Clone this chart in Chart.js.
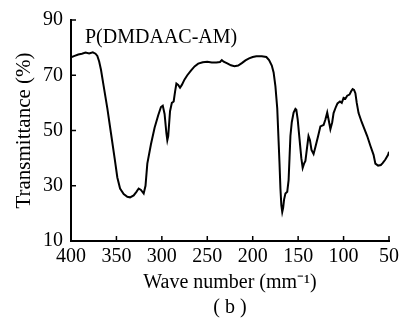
<!DOCTYPE html>
<html><head><meta charset="utf-8">
<script src="https://cdn.jsdelivr.net/npm/chart.js@4/dist/chart.umd.min.js"></script>
<style>html,body{margin:0;padding:0;background:#fff;}</style>
</head><body>
<canvas id="c" width="403" height="322"></canvas>
<script>
const seriesName = 'P(DMDAAC-AM)';
const xTitle = 'Wave number (mm\u207B\u00B9)';
const panelLabel = '( b )';
const yTitle = 'Transmittance (%)';
const xTicks = [400, 350, 300, 250, 200, 150, 100, 50];
const yTicks = [10, 30, 50, 70, 90];

const waveNumbers = [400,396,392,388,384,380,376,373,371,369,367,364,360,356,352,349,346,342,338,335,331,328,325.5,323,320,318,316,312,308,304,301,299,297,295,294,293,291,289,287,285.5,284,282,280,278,275,272,268,264,260,255,250,245,240,236,234,232,228,224,220,216,212,208,204,200,196,190,185,182,179,177,175,173,171.5,170.5,169.5,168.5,167.5,166.5,165.5,164,162,160.5,159.5,158.5,157,155,153,152,150.5,148.5,146.5,145,143.5,142,140.5,138.6,137,135.3,133,131,128,125.5,122,120,118,116.5,114.5,112.5,111,108.5,106.7,104,102,100,98,96,93.5,91.5,90,88.5,87,85.5,83.5,80,77,74,70.5,67,65,62,59,57,54,51,50];
const transmittance = [76.5,77.0,77.5,77.8,78.2,77.9,78.3,77.8,77.0,75.0,72.0,66,58,49,40,33,29,27,26,25.8,26.5,27.8,29,28.5,27.2,30,38,45,51,55.5,58.5,59,56,49,46.5,48,57,60,60.5,64,67,66.5,65.5,66.5,68.5,70,71.7,73.2,74.2,74.7,74.9,74.6,74.6,74.8,75.5,74.9,74.3,73.6,73.3,73.5,74.4,75.4,76.1,76.6,76.9,76.9,76.6,75.5,73.5,71,66,58,46,38,29,23,20.5,22,25,27.2,27.8,32,40,48,53,56.5,57.8,57.5,54,47,40,36.5,38,39,43,48,46.5,43,41.5,44,48,51.5,52,54,56.5,54,50.5,53,56.3,58.5,59.8,60.5,60,61.8,61.5,62.6,63,64.3,65,64.7,63.5,60,56.3,53,50.5,48,44.5,41.2,38,37.3,37.5,38.2,39.5,41.2,42.3];

const points = waveNumbers.map((w, i) => ({ x: w, y: transmittance[i] }));
const FONT = '"Liberation Serif", "Times New Roman", serif';

const inwardTicks = {
  id: 'inwardTicks',
  afterDraw(chart) {
    const { ctx, chartArea: a, scales: { x, y } } = chart;
    ctx.save();
    ctx.strokeStyle = '#000';
    ctx.lineWidth = 1.5;
    xTicks.forEach(v => {
      if (v === x.max) return;
      const px = x.getPixelForValue(v);
      ctx.beginPath(); ctx.moveTo(px, a.bottom); ctx.lineTo(px, a.bottom - 5); ctx.stroke();
    });
    yTicks.forEach(v => {
      if (v === y.min) return;
      const py = y.getPixelForValue(v);
      ctx.beginPath(); ctx.moveTo(a.left, py); ctx.lineTo(a.left + 5, py); ctx.stroke();
    });
    ctx.fillStyle = '#000';
    ctx.font = '20px ' + FONT;
    ctx.textBaseline = 'alphabetic';
    ctx.textAlign = 'left';
    ctx.fillText(seriesName, a.left + 14, a.top + 23);
    ctx.restore();
  }
};

new Chart(document.getElementById('c'), {
  type: 'line',
  data: { datasets: [{ data: points, borderColor: '#000', borderWidth: 2, pointRadius: 0, tension: 0, fill: false }] },
  options: {
    responsive: false,
    animation: false,
    parsing: false,
    layout: { padding: { top: 15, right: 14, left: 0, bottom: 0 } },
    plugins: { legend: { display: false }, tooltip: { enabled: false } },
    scales: {
      x: {
        type: 'linear', reverse: true, min: 50, max: 400,
        afterBuildTicks: s => { s.ticks = xTicks.map(v => ({ value: v })); },
        afterFit: s => { s.height = 81; },
        grid: { display: false, drawTicks: false },
        border: { display: true, color: '#000', width: 2 },
        ticks: { color: '#000', padding: 4, font: { family: FONT, size: 20 }, maxRotation: 0, autoSkip: false },
        title: { display: true, text: [xTitle, panelLabel], color: '#000', font: { family: FONT, size: 20, lineHeight: 1.25 }, padding: { top: 0, bottom: 1.5 } }
      },
      y: {
        type: 'linear', min: 10, max: 90,
        afterBuildTicks: s => { s.ticks = yTicks.map(v => ({ value: v })); },
        afterFit: s => { s.width = 71; },
        grid: { display: false, drawTicks: false },
        border: { display: true, color: '#000', width: 2 },
        ticks: { color: '#000', padding: 8, font: { family: FONT, size: 20 } },
        title: { display: true, text: yTitle, color: '#000', font: { family: FONT, size: 21 }, padding: { top: 12, bottom: 0 } }
      }
    }
  },
  plugins: [inwardTicks]
});
</script>
</body></html>
